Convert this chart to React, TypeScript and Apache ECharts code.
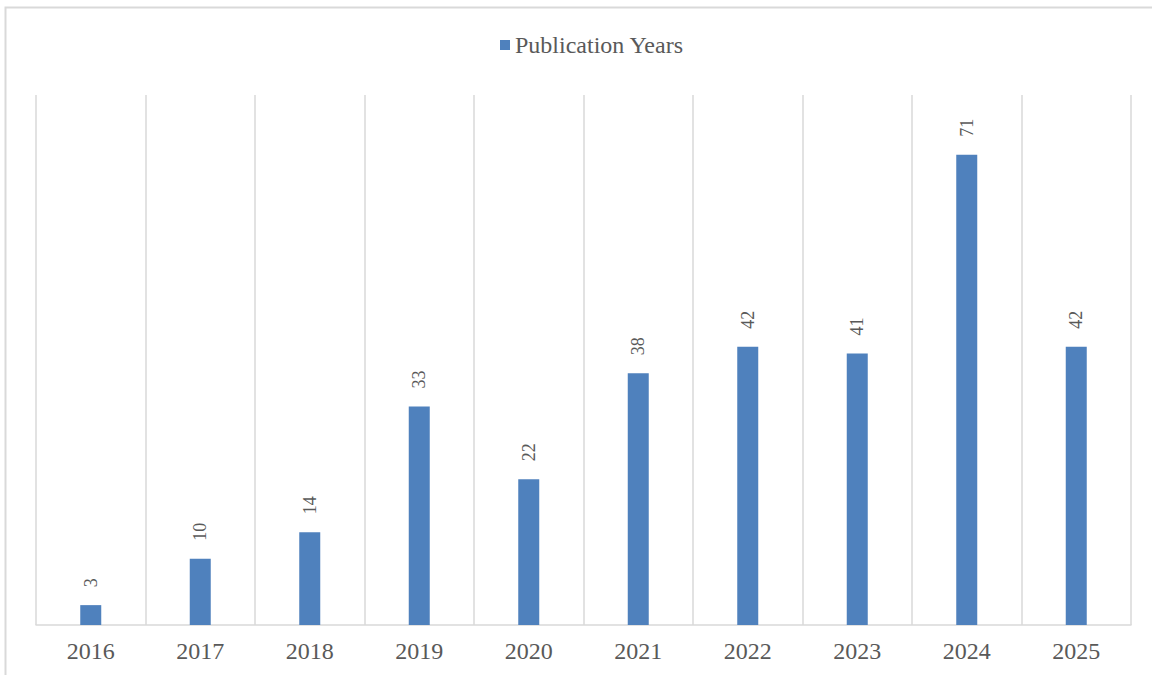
import React, { useEffect, useRef } from "react";
import * as echarts from "echarts";

const years = ["2016", "2017", "2018", "2019", "2020", "2021", "2022", "2023", "2024", "2025"];
const publications = [3, 10, 14, 33, 22, 38, 42, 41, 71, 42];
const seriesName = "Publication Years";

const FONT = "Liberation Serif";

export default function App() {
  const ref = useRef<HTMLDivElement>(null);
  useEffect(() => {
    if (!ref.current) return;
    const chart = echarts.init(ref.current, undefined, { renderer: "svg" });
    chart.setOption({
      animation: false,
      backgroundColor: "#ffffff",
      graphic: [
        {
          type: "rect",
          shape: { x: 5.5, y: 7.5, width: 1200, height: 720 },
          style: { fill: "none", stroke: "#d9d9d9", lineWidth: 2 },
          silent: true,
          z: -1,
        },
      ],
      legend: {
        data: [seriesName],
        left: 495,
        top: 28,
        icon: "rect",
        itemWidth: 10,
        itemHeight: 10,
        itemGap: 6,
        textStyle: { fontFamily: FONT, fontSize: 24, color: "#595959" },
      },
      grid: { left: 36, right: 21, top: 95, bottom: 50, containLabel: false },
      xAxis: {
        type: "category",
        data: years,
        boundaryGap: true,
        axisLine: { show: true, lineStyle: { color: "#d9d9d9", width: 1.5 } },
        axisTick: { show: false },
        splitLine: { show: true, interval: 0, lineStyle: { color: "#d9d9d9", width: 1.5 } },
        axisLabel: {
          interval: 0,
          margin: 14,
          fontFamily: FONT,
          fontSize: 24,
          color: "#595959",
        },
      },
      yAxis: {
        type: "value",
        min: 0,
        max: 80,
        show: false,
        splitLine: { show: false },
      },
      series: [
        {
          name: seriesName,
          type: "bar",
          data: publications,
          barWidth: 21,
          itemStyle: { color: "#4f81bd" },
          label: {
            show: true,
            position: "top",
            rotate: 90,
            align: "left",
            verticalAlign: "middle",
            distance: 18,
            fontFamily: FONT,
            fontSize: 18,
            color: "#595959",
          },
        },
      ],
    });
    return () => chart.dispose();
  }, []);
  return (
    <div
      ref={ref}
      style={{ position: "absolute", left: 0, top: 0, width: 1152, height: 675 }}
    />
  );
}
